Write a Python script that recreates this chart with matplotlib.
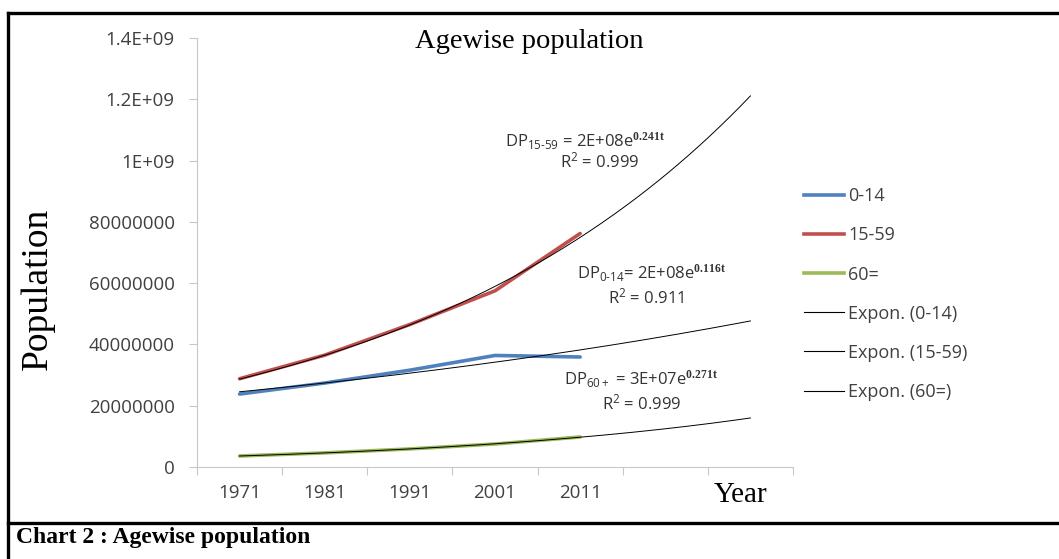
import numpy as np
import matplotlib.pyplot as plt
from matplotlib.lines import Line2D

years = ["1971", "1981", "1991", "2001", "2011"]
pop_0_14 = [2.38e8, 2.74e8, 3.16e8, 3.64e8, 3.59e8]
pop_15_59 = [2.88e8, 3.65e8, 4.65e8, 5.75e8, 7.62e8]
pop_60 = [3.6e7, 4.6e7, 5.9e7, 7.5e7, 9.8e7]
forward = 2  # trendline forecast periods

yticks = [0, 2e8, 4e8, 6e8, 8e8, 1e9, 1.2e9, 1.4e9]
ytick_labels = ["0", "20000000", "40000000", "60000000", "80000000",
                "1E+09", "1.2E+09", "1.4E+09"]

serif = "Liberation Serif"
sans = "Open Sans"
grey = "#404040"
axis_col = "#c8c8c8"

plt.rcParams["mathtext.fontset"] = "custom"
plt.rcParams["mathtext.rm"] = sans
plt.rcParams["mathtext.it"] = sans
plt.rcParams["mathtext.bf"] = serif + ":bold"

fig = plt.figure(figsize=(10.59, 5.59), dpi=100)
ax = fig.add_axes([197 / 1059, 1 - 467 / 559, 596 / 1059, 429 / 559])

t = np.arange(1, len(years) + 1)
t_fit = np.linspace(1, len(years) + forward, 200)

series = [("0-14", pop_0_14, "#4f81bd"),
          ("15-59", pop_15_59, "#c0504d"),
          ("60=", pop_60, "#9bbb59")]

handles = []
for name, vals, col in series:
    ax.plot(t, vals, color=col, lw=2.6, solid_capstyle="round", zorder=2)
    handles.append(Line2D([], [], color=col, lw=2.6))

for name, vals, col in series:
    b, a = np.polyfit(t, np.log(vals), 1)
    ax.plot(t_fit, np.exp(a) * np.exp(b * t_fit), color="black", lw=0.7, zorder=3)
    handles.append(Line2D([], [], color="black", lw=0.8))

labels = [s[0] for s in series] + ["Expon. (%s)" % s[0] for s in series]

ax.set_xlim(0.5, len(years) + forward + 0.5)
ax.set_ylim(0, 1.4e9)
ax.set_yticks(yticks)
ax.set_yticklabels(ytick_labels, fontfamily=sans, fontsize=13.5, color=grey)
ax.set_xticks(np.arange(0.5, len(years) + forward + 1, 1))
ax.set_xticklabels([])
ax.set_xticks(t, minor=True)
ax.set_xticklabels(years, minor=True, fontfamily=sans, fontsize=13.5, color=grey)
ax.tick_params(axis="x", which="minor", length=0, pad=12)
ax.tick_params(axis="x", which="major", length=6, color=axis_col, direction="out")
ax.tick_params(axis="y", length=6, color=axis_col, pad=10)
for side in ["top", "right"]:
    ax.spines[side].set_visible(False)
ax.spines["left"].set_color(axis_col)
ax.spines["bottom"].set_color(axis_col)

fig.text(0.5, 1 - 42 / 559, "Agewise population", family=serif, fontsize=20.5,
         ha="center", va="center")
fig.text(38 / 1059, 1 - 289 / 559, "Population", family=serif, fontsize=27,
         rotation=90, ha="center", va="center")
fig.text(741 / 1059, 1 - 495 / 559, "Year", family=serif, fontsize=21,
         ha="center", va="center")

eq_kw = dict(family=sans, fontsize=12, color="#333333", ha="center", va="center")
fig.text(585 / 1059, 1 - 141 / 559, r"DP$_{\mathrm{15\text{-}59}}$ = 2E+08e$^{\mathbf{0.241t}}$", **eq_kw)
fig.text(600 / 1059, 1 - 161 / 559, r"R$^2$ = 0.999", **eq_kw)
fig.text(651 / 1059, 1 - 273 / 559, r"DP$_{\mathrm{0\text{-}14}}$= 2E+08e$^{\mathbf{0.116t}}$", **eq_kw)
fig.text(646 / 1059, 1 - 297 / 559, r"R$^2$ = 0.911", **eq_kw)
fig.text(641 / 1059, 1 - 379 / 559, r"DP$_{\mathrm{60+}}$ = 3E+07e$^{\mathbf{0.271t}}$", **eq_kw)
fig.text(642 / 1059, 1 - 403 / 559, r"R$^2$ = 0.999", **eq_kw)

fig.legend(handles, labels, loc="upper left", bbox_to_anchor=(788 / 1059, 1 - 171 / 559),
           frameon=False, handlelength=2.2, handletextpad=0.25, labelspacing=1.17,
           prop={"family": sans, "size": 13}, labelcolor=grey)

# outer frame and caption row
frame = dict(color="black", lw=2.4, transform=fig.transFigure, clip_on=False)
fig.add_artist(Line2D([8 / 1059, 8 / 1059], [0, 1 - 13 / 559], **frame))
fig.add_artist(Line2D([8 / 1059, 1], [1 - 13 / 559, 1 - 13 / 559], **frame))
fig.add_artist(Line2D([8 / 1059, 1], [1 - 523 / 559, 1 - 523 / 559], **frame))
fig.text(16 / 1059, 1 - 538 / 559, "Chart 2 : Agewise population", family=serif,
         fontsize=17, fontweight="bold", ha="left", va="center")

fig.savefig("out.png", dpi=100)
